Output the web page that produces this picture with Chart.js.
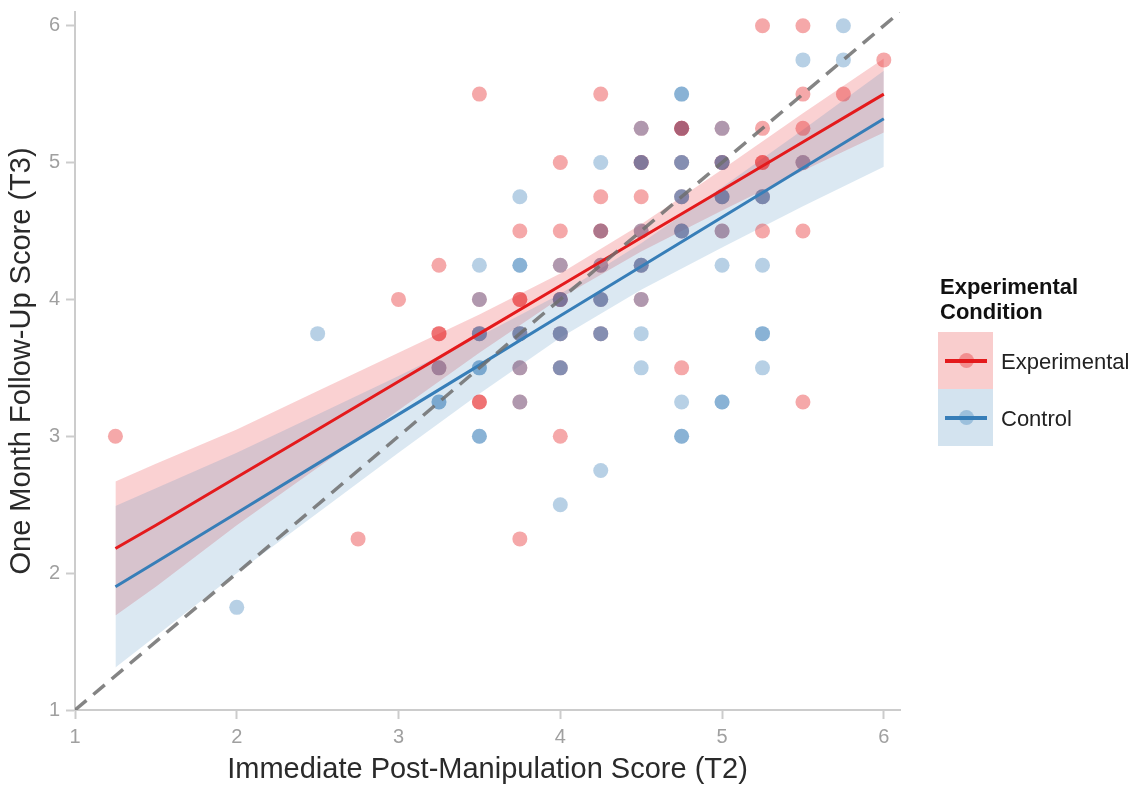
<!DOCTYPE html>
<html>
<head>
<meta charset="utf-8">
<script src="https://cdn.jsdelivr.net/npm/chart.js@4.4.0/dist/chart.umd.min.js"></script>
<style>
    body { margin: 0; background: #fff; font-family: "Liberation Sans", Arial, sans-serif; }
    #wrap { position: relative; width: 1140px; height: 787px; }
    #legend { position: absolute; left: 938px; top: 274px; color: #111; }
    #legend .title { font-weight: bold; font-size: 22px; line-height: 25px; margin-left: 2px; margin-bottom: 8px; }
    #legend .row { position: relative; height: 57px; }
    #legend .key { position: absolute; left: 0; top: 0; width: 55px; height: 57px; }
    #legend .bar { position: absolute; left: 7px; top: 27px; width: 42px; height: 4px; }
    #legend .dot { position: absolute; left: 21px; top: 21px; width: 15px; height: 15px; border-radius: 50%; }
    #legend .lab { position: absolute; left: 63px; top: 17px; font-size: 22px; color: #222; }
</style>
</head>
<body>
<div id="wrap">
    <canvas id="scatter-chart" width="1140" height="787"></canvas>
    <div id="legend">
        <div class="title">Experimental<br>Condition</div>
        <div class="row">
            <div class="key" style="background: rgba(228,26,28,0.22)"></div>
            <div class="bar" style="background: #e41a1c"></div>
            <div class="dot" style="background: rgba(228,26,28,0.35)"></div>
            <div class="lab">Experimental</div>
        </div>
        <div class="row">
            <div class="key" style="background: rgba(55,126,184,0.22)"></div>
            <div class="bar" style="background: #377eb8"></div>
            <div class="dot" style="background: rgba(55,126,184,0.35)"></div>
            <div class="lab">Control</div>
        </div>
    </div>
</div>
<script>
// raw scores (repeats = stacked dots)
const expX = [1.25, 2.75, 3, 3.25, 3.25, 3.25, 3.25, 3.5, 3.5, 3.5, 3.5, 3.5,
    3.75, 3.75, 3.75, 3.75, 3.75, 3.75, 3.75, 4, 4, 4, 4, 4, 4, 4, 4,
    4.25, 4.25, 4.25, 4.25, 4.25, 4.25, 4.25, 4.5, 4.5, 4.5, 4.5, 4.5, 4.5, 4.5,
    4.75, 4.75, 4.75, 4.75, 4.75, 4.75, 4.75, 5, 5, 5, 5, 5,
    5.25, 5.25, 5.25, 5.25, 5.25, 5.25, 5.5, 5.5, 5.5, 5.5, 5.5, 5.5, 5.75, 6];
const expY = [3, 2.25, 4, 4.25, 3.75, 3.75, 3.5, 5.5, 4, 3.75, 3.25, 3.25,
    4.5, 4, 4, 3.75, 3.5, 3.25, 2.25, 5, 4.5, 4.25, 4, 4, 3.75, 3.5, 3,
    5.5, 4.75, 4.5, 4.5, 4.25, 4, 3.75, 5.25, 5, 5, 4.75, 4.5, 4.25, 4,
    5.25, 5.25, 5, 4.75, 4.5, 3.5, 5.25, 5.25, 5, 5, 4.75, 4.5,
    6, 5.25, 5, 5, 4.75, 4.5, 6, 5.5, 5.25, 5, 4.5, 3.25, 5.5, 5.75];
const ctrlX = [2, 2.5, 3.25, 3.25, 3.25, 3.5, 3.5, 3.5, 3.5, 3.5, 3.5, 3.5, 3.5,
    3.75, 3.75, 3.75, 3.75, 3.75, 3.75, 3.75, 4, 4, 4, 4, 4, 4, 4, 4,
    4.25, 4.25, 4.25, 4.25, 4.25, 4.25, 4.25, 4.25,
    4.5, 4.5, 4.5, 4.5, 4.5, 4.5, 4.5, 4.5, 4.5,
    4.75, 4.75, 4.75, 4.75, 4.75, 4.75, 4.75, 4.75, 4.75, 4.75, 4.75, 4.75,
    5, 5, 5, 5, 5, 5, 5, 5, 5,
    5.25, 5.25, 5.25, 5.25, 5.25, 5.25, 5.5, 5.5, 5.75, 5.75];
const ctrlY = [1.75, 3.75, 3.5, 3.25, 3.25, 4.25, 4, 3.75, 3.5, 3.5, 3, 3, 3.75,
    4.75, 4.25, 4.25, 3.75, 3.75, 3.5, 3.25, 4.25, 4, 4, 3.75, 3.75, 3.5, 3.5, 2.5,
    5, 4.5, 4.25, 4, 4, 3.75, 3.75, 2.75,
    5.25, 5, 4.5, 4.25, 4.25, 4, 3.75, 3.5, 5,
    5.5, 5.5, 5.25, 5, 5, 4.75, 4.75, 4.5, 4.5, 3.25, 3, 3,
    5.25, 5, 5, 4.75, 4.75, 4.5, 4.25, 3.25, 3.25,
    4.75, 4.75, 4.25, 3.75, 3.75, 3.5, 5.75, 5, 5.75, 6];

// fitted lines and 95% bands, read at these x positions
const fitX = [1.25, 1.5, 2, 2.5, 3, 3.5, 4, 4.5, 5, 5.5, 6];
const expFit = [2.18, 2.35, 2.70, 3.05, 3.40, 3.75, 4.10, 4.45, 4.80, 5.15, 5.50];
const expLo = [1.69, 1.90, 2.35, 2.77, 3.19, 3.61, 4.01, 4.35, 4.65, 4.94, 5.22];
const expHi = [2.67, 2.80, 3.05, 3.33, 3.61, 3.89, 4.19, 4.55, 4.95, 5.36, 5.76];
const ctrlFit = [1.90, 2.08, 2.44, 2.80, 3.16, 3.52, 3.88, 4.24, 4.60, 4.96, 5.32];
const ctrlLo = [1.31, 1.54, 2.00, 2.44, 2.88, 3.31, 3.72, 4.07, 4.38, 4.68, 4.97];
const ctrlHi = [2.49, 2.62, 2.88, 3.16, 3.44, 3.73, 4.04, 4.41, 4.82, 5.24, 5.67];

const refX = [1, 6.1];
const refY = [1, 6.1];
const axisTicks = [1, 2, 3, 4, 5, 6];

const pts = (xs, ys) => xs.map((x, i) => ({ x: x, y: ys[i] }));

Chart.defaults.font.family = "'Liberation Sans', Arial, sans-serif";

const band = (data, color, fill, order) => ({
    type: 'line',
    data: data,
    borderWidth: 0,
    pointRadius: 0,
    backgroundColor: color,
    fill: fill,
    order: order,
});

const axis = (title, titlePad, size) => ({
    type: 'linear',
    min: 1,
    max: 6.1,
    afterBuildTicks: (scale) => {
        scale.ticks = axisTicks.map(v => ({ value: v }));
    },
    ticks: {
        color: '#a0a0a0',
        font: { size: 20 },
        padding: 6,
    },
    grid: {
        drawOnChartArea: false,
        tickLength: 9,
        tickWidth: 2,
        tickColor: '#cccccc',
    },
    border: {
        color: '#cccccc',
        width: 2,
    },
    title: {
        display: true,
        text: title,
        color: '#2a2a2a',
        font: { size: 29 },
        padding: titlePad,
    },
    afterFit: (s) => {
        // labels sit well inside the range, no need for overflow room
        s.paddingTop = 0;
        s.paddingBottom = 0;
        s.paddingLeft = 0;
        s.paddingRight = 0;
        size(s);
    },
});

const ctx = document.getElementById("scatter-chart").getContext('2d');

new Chart(ctx, {
    type: 'scatter',
    data: {
        datasets: [
            band(pts(fitX, expLo), 'transparent', false, 20),
            band(pts(fitX, expHi), 'rgba(228,26,28,0.2)', '-1', 20),
            band(pts(fitX, ctrlLo), 'transparent', false, 19),
            band(pts(fitX, ctrlHi), 'rgba(55,126,184,0.18)', '-1', 19),
            {
                label: 'Experimental',
                data: pts(expX, expY),
                backgroundColor: 'rgba(228,26,28,0.38)',
                borderWidth: 0,
                pointRadius: 7.5,
                order: 10,
            },
            {
                label: 'Control',
                data: pts(ctrlX, ctrlY),
                backgroundColor: 'rgba(55,126,184,0.36)',
                borderWidth: 0,
                pointRadius: 7.5,
                order: 9,
            },
            {
                type: 'line',
                data: pts(fitX, expFit),
                borderColor: '#e41a1c',
                borderWidth: 3,
                pointRadius: 0,
                fill: false,
                order: 3,
            },
            {
                type: 'line',
                data: pts(fitX, ctrlFit),
                borderColor: '#377eb8',
                borderWidth: 3,
                pointRadius: 0,
                fill: false,
                order: 2,
            },
            {
                type: 'line',
                data: pts(refX, refY),
                borderColor: 'rgba(110,110,110,0.85)',
                borderWidth: 3.5,
                borderDash: [15, 9],
                pointRadius: 0,
                fill: false,
                order: 1,
            },
        ]
    },
    options: {
        responsive: false,
        animation: false,
        layout: {
            padding: { top: 12, right: 240, left: 0, bottom: 0 },
        },
        plugins: {
            legend: { display: false },
            tooltip: { enabled: false },
        },
        scales: {
            x: axis('Immediate Post-Manipulation Score (T2)', { top: 0, bottom: 0 }, (s) => { s.height = 77; }),
            y: axis('One Month Follow-Up Score (T3)', { top: 5, bottom: 0 }, (s) => { s.width = 75; }),
        }
    }
});
</script>
</body>
</html>
